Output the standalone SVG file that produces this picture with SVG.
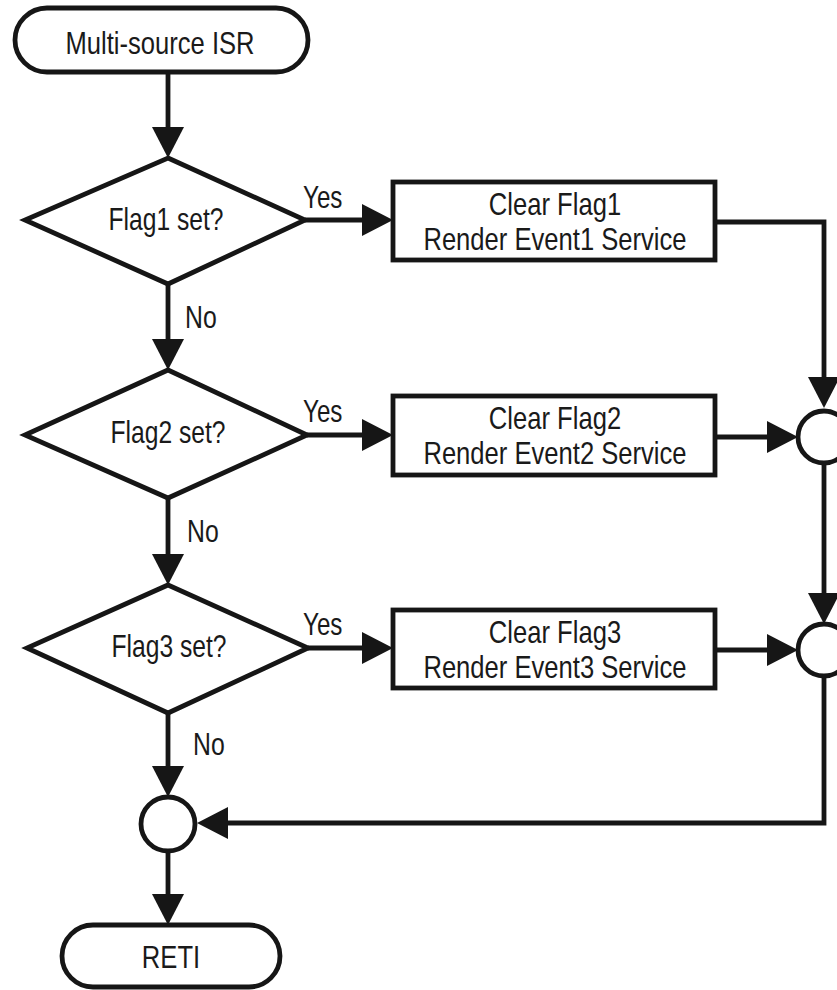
<svg xmlns="http://www.w3.org/2000/svg" width="837" height="990" viewBox="0 0 837 990">
  <defs>
    <style>
      .shape { fill: #ffffff; stroke: #161616; stroke-width: 4.8; stroke-linejoin: miter; }
      .wire { fill: none; stroke: #161616; stroke-width: 4.8; stroke-linejoin: miter; }
      .lbl { font-family: "Liberation Sans", Arial, sans-serif; font-size: 32px; fill: #1a1a1a; text-anchor: middle; }
      .tag { font-family: "Liberation Sans", Arial, sans-serif; font-size: 31px; fill: #1a1a1a; text-anchor: start; }
    </style>
    <!-- filled arrowhead; tip lands 29px beyond the path end -->
    <marker id="arrow" markerUnits="userSpaceOnUse" markerWidth="32" markerHeight="32" refX="2" refY="16" orient="auto">
      <path d="M0,0 L31,16 L0,32 z" fill="#161616"/>
    </marker>
  </defs>

  <rect width="837" height="990" fill="#ffffff"/>

  <!-- connectors -->
  <g id="connectors">
    <path class="wire" d="M168,72 V129" marker-end="url(#arrow)"/>
    <path class="wire" d="M305,220 H364" marker-end="url(#arrow)"/>
    <path class="wire" d="M715,222 H824 V379" marker-end="url(#arrow)"/>
    <path class="wire" d="M168,284 V341" marker-end="url(#arrow)"/>
    <path class="wire" d="M307,435 H364" marker-end="url(#arrow)"/>
    <path class="wire" d="M715,437 H769" marker-end="url(#arrow)"/>
    <path class="wire" d="M824,463 V595" marker-end="url(#arrow)"/>
    <path class="wire" d="M168,498 V556" marker-end="url(#arrow)"/>
    <path class="wire" d="M308,648 H364" marker-end="url(#arrow)"/>
    <path class="wire" d="M715,650 H769" marker-end="url(#arrow)"/>
    <path class="wire" d="M824,676 V823 H226" marker-end="url(#arrow)"/>
    <path class="wire" d="M168,713 V768" marker-end="url(#arrow)"/>
    <path class="wire" d="M168,851 V896" marker-end="url(#arrow)"/>

    <text class="tag" transform="translate(303,208) scale(0.78 1)">Yes</text>
    <text class="tag" transform="translate(303,422) scale(0.78 1)">Yes</text>
    <text class="tag" transform="translate(303,635) scale(0.78 1)">Yes</text>
    <text class="tag" transform="translate(185,328) scale(0.8 1)">No</text>
    <text class="tag" transform="translate(187,542) scale(0.8 1)">No</text>
    <text class="tag" transform="translate(193,755) scale(0.8 1)">No</text>
  </g>

  <!-- entry terminal -->
  <g id="start">
    <rect class="shape" x="15" y="8" width="293" height="64" rx="32" ry="32"/>
    <text class="lbl" transform="translate(160,54) scale(0.8 1)" font-size="33">Multi-source ISR</text>
  </g>

  <!-- decisions -->
  <g id="flag1">
    <polygon class="shape" points="168,158 305,220 168,284 25,220"/>
    <text class="lbl" transform="translate(166,230) scale(0.77 1)">Flag1 set?</text>
  </g>
  <g id="flag2">
    <polygon class="shape" points="168,370 307,435 168,498 25,435"/>
    <text class="lbl" transform="translate(168,443) scale(0.77 1)">Flag2 set?</text>
  </g>
  <g id="flag3">
    <polygon class="shape" points="168,585 308,648 168,713 27,648"/>
    <text class="lbl" transform="translate(169,657) scale(0.77 1)">Flag3 set?</text>
  </g>

  <!-- service blocks -->
  <g id="service1">
    <rect class="shape" x="393" y="182" width="322" height="78"/>
    <text class="lbl" transform="translate(555,215) scale(0.8 1)">Clear Flag1</text>
    <text class="lbl" transform="translate(555,250) scale(0.8 1)">Render Event1 Service</text>
  </g>
  <g id="service2">
    <rect class="shape" x="393" y="396" width="322" height="79"/>
    <text class="lbl" transform="translate(555,429) scale(0.8 1)">Clear Flag2</text>
    <text class="lbl" transform="translate(555,464) scale(0.8 1)">Render Event2 Service</text>
  </g>
  <g id="service3">
    <rect class="shape" x="393" y="610" width="322" height="78"/>
    <text class="lbl" transform="translate(555,643) scale(0.8 1)">Clear Flag3</text>
    <text class="lbl" transform="translate(555,678) scale(0.8 1)">Render Event3 Service</text>
  </g>

  <!-- junctions -->
  <g id="join1"><circle class="shape" cx="824" cy="437" r="26"/></g>
  <g id="join2"><circle class="shape" cx="824" cy="650" r="26"/></g>
  <g id="join3"><circle class="shape" cx="168" cy="824" r="27"/></g>

  <!-- exit terminal -->
  <g id="reti">
    <rect class="shape" x="62" y="925" width="218" height="62" rx="31" ry="31"/>
    <text class="lbl" transform="translate(171,968) scale(0.8 1)">RETI</text>
  </g>
</svg>
